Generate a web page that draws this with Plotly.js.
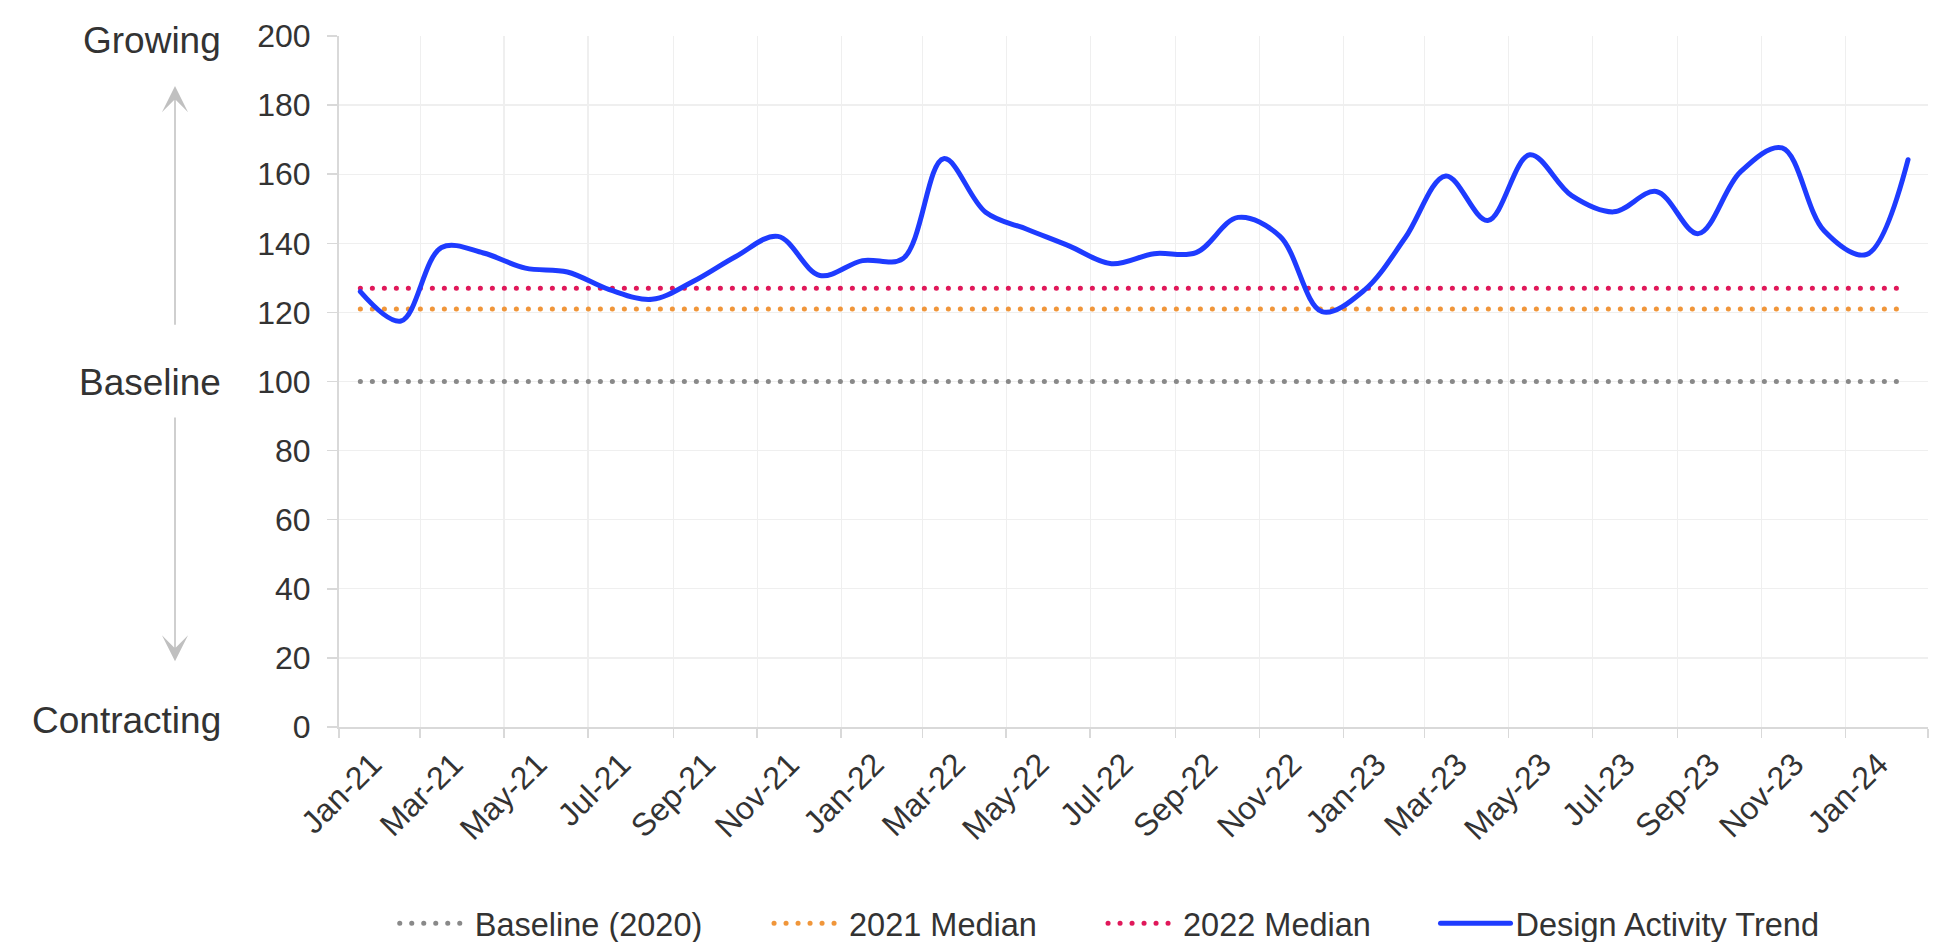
<!DOCTYPE html>
<html>
<head>
<meta charset="utf-8">
<script src="https://cdn.plot.ly/plotly-3.0.1.min.js"></script>
<style>
  html, body { margin: 0; padding: 0; background: #ffffff; }
  #chart { width: 1937px; height: 942px; }
  path.js-line { stroke-linecap: round; }
</style>
</head>
<body>
<div id="chart"></div>
<script>
// ---- data ----
const months = [
  "2021-01","2021-02","2021-03","2021-04","2021-05","2021-06","2021-07","2021-08","2021-09","2021-10","2021-11","2021-12",
  "2022-01","2022-02","2022-03","2022-04","2022-05","2022-06","2022-07","2022-08","2022-09","2022-10","2022-11","2022-12",
  "2023-01","2023-02","2023-03","2023-04","2023-05","2023-06","2023-07","2023-08","2023-09","2023-10","2023-11","2023-12",
  "2024-01","2024-02"
];
const designActivityTrend = [
  126, 117.5, 138.8, 137.2, 132.8, 131.7, 126.6, 123.8, 129.1, 136.2, 142, 130.7,
  135, 135.6, 164.5, 149, 144, 139.2, 134.1, 137, 137.3, 147.5, 142, 120.2,
  126.5, 141.6, 159.5, 146.6, 165.6, 153.8, 149.1, 155, 142.8, 160.6, 167.6, 143.6,
  136.8, 164.2
];
const baseline2020 = 100;
const median2021 = 121;
const median2022 = 127;

const tickMonths = ["2021-01","2021-03","2021-05","2021-07","2021-09","2021-11","2022-01","2022-03","2022-05","2022-07",
                    "2022-09","2022-11","2023-01","2023-03","2023-05","2023-07","2023-09","2023-11","2024-01"];
const tickLabels = ["Jan-21","Mar-21","May-21","Jul-21","Sep-21","Nov-21","Jan-22","Mar-22","May-22","Jul-22",
                    "Sep-22","Nov-22","Jan-23","Mar-23","May-23","Jul-23","Sep-23","Nov-23","Jan-24"];
const yTickVals = [0, 20, 40, 60, 80, 100, 120, 140, 160, 180, 200];
const sideLabels = ["Growing", "Baseline", "Contracting"];
const sideLabelValues = [200, 100, 0];

// ---- helpers ----
function monthStart(m) { return m + "-01"; }
function midMonth(m) {
  const [y, mo] = m.split("-").map(Number);
  const a = Date.UTC(y, mo - 1, 1), b = Date.UTC(y, mo, 1);
  const d = new Date((a + b) / 2);
  const p = n => String(n).padStart(2, "0");
  return d.getUTCFullYear() + "-" + p(d.getUTCMonth() + 1) + "-" + p(d.getUTCDate()) + " " + p(d.getUTCHours()) + ":" + p(d.getUTCMinutes());
}
const xDates = months.map(monthStart);
const xRange = ["2021-01-01", "2024-03-01"];

const FONT = "Liberation Sans, Arial, Helvetica, sans-serif";
const TXT = "#333333";
const DOTS = "0.1px,11.9px";

const common = { x: xDates, xperiod: "M1", xperiodalignment: "middle", mode: "lines", type: "scatter", hoverinfo: "skip" };

const traces = [
  Object.assign({}, common, { name: "Baseline (2020)", y: months.map(() => baseline2020),
    line: { color: "#898989", width: 5, dash: DOTS }, legend: "legend" }),
  Object.assign({}, common, { name: "2021 Median", y: months.map(() => median2021),
    line: { color: "#F0963A", width: 5, dash: DOTS }, legend: "legend2" }),
  Object.assign({}, common, { name: "2022 Median", y: months.map(() => median2022),
    line: { color: "#E0185A", width: 5, dash: DOTS }, legend: "legend3" }),
  Object.assign({}, common, { name: "Design Activity Trend", y: designActivityTrend,
    line: { color: "#1E3BFF", width: 5, shape: "spline", smoothing: 1 }, legend: "legend4" })
];

const PLOT_TOP = 36, PLOT_BOTTOM = 727;
function legendAt(xpx) {
  return { x: xpx / 1937, xref: "container", xanchor: "left",
           y: 1 - 923.5 / 942, yref: "container", yanchor: "middle",
           orientation: "h", itemwidth: 70, bgcolor: "rgba(0,0,0,0)", borderwidth: 0,
           font: { family: FONT, size: 32.5, color: TXT } };
}

const annotations = sideLabels.map((t, i) => ({
  text: t, xref: "paper", x: (223 - 339) / 1589, xanchor: "right", yref: "y", y: sideLabelValues[i],
  yanchor: "middle", yshift: [-4, -0.5, 7][i], showarrow: false, font: { family: FONT, size: 37, color: TXT }
}));
// direction arrows (grey) beside the axis
annotations.push({
  text: "", xref: "paper", x: (175 - 339) / 1589, yref: "y", y: 185.5, showarrow: true,
  axref: "pixel", ax: 0, ayref: "y", ay: 116, arrowhead: 3, arrowsize: 2.9, arrowwidth: 1.5, arrowcolor: "#C0C0C0", standoff: 0
});
annotations.push({
  text: "", xref: "paper", x: (175 - 339) / 1589, yref: "y", y: 19, showarrow: true,
  axref: "pixel", ax: 0, ayref: "y", ay: 90, arrowhead: 3, arrowsize: 2.9, arrowwidth: 1.5, arrowcolor: "#C0C0C0", standoff: 0
});

const layout = {
  width: 1937, height: 942,
  margin: { l: 339, r: 9, t: PLOT_TOP, b: 942 - PLOT_BOTTOM, autoexpand: false },
  paper_bgcolor: "#ffffff", plot_bgcolor: "#ffffff",
  font: { family: FONT, color: TXT },
  showlegend: true,
  xaxis: {
    type: "date", range: xRange, tick0: "2021-01-01", dtick: "M2",
    showticklabels: false, ticks: "outside", ticklen: 9, tickwidth: 1.5, tickcolor: "#D9D9D9",
    showgrid: true, gridcolor: "#EFEFEF", gridwidth: 1.3,
    showline: true, linecolor: "#D9D9D9", linewidth: 2, zeroline: false, fixedrange: true
  },
  xaxis2: {
    type: "date", range: xRange, overlaying: "x", anchor: "y", side: "bottom",
    tickmode: "array", tickvals: tickMonths.map(midMonth), ticktext: tickLabels,
    tickangle: -45, ticks: "", showgrid: false, showline: false, zeroline: false,
    tickfont: { family: FONT, size: 32, color: TXT }, ticklabelstandoff: 11, ticklabelshift: 12, fixedrange: true
  },
  yaxis: {
    range: [0, 200], tickmode: "array", tickvals: yTickVals,
    ticks: "outside", ticklen: 10, tickwidth: 1.5, tickcolor: "#D9D9D9",
    showgrid: true, gridcolor: "#EFEFEF", gridwidth: 1.3,
    showline: true, linecolor: "#D9D9D9", linewidth: 2, zeroline: false,
    tickfont: { family: FONT, size: 32, color: TXT }, ticklabelstandoff: 10, fixedrange: true
  },
  legend: legendAt(394.7),
  legend2: legendAt(769),
  legend3: legendAt(1103),
  legend4: legendAt(1435.5),
  annotations: annotations
};

// a hidden helper trace so xaxis2 is drawn
traces.push({ x: [xRange[0]], y: [null], xaxis: "x2", yaxis: "y", type: "scatter", mode: "lines", showlegend: false, hoverinfo: "skip" });

Plotly.newPlot("chart", traces, layout, { staticPlot: true, displayModeBar: false });
</script>
</body>
</html>
